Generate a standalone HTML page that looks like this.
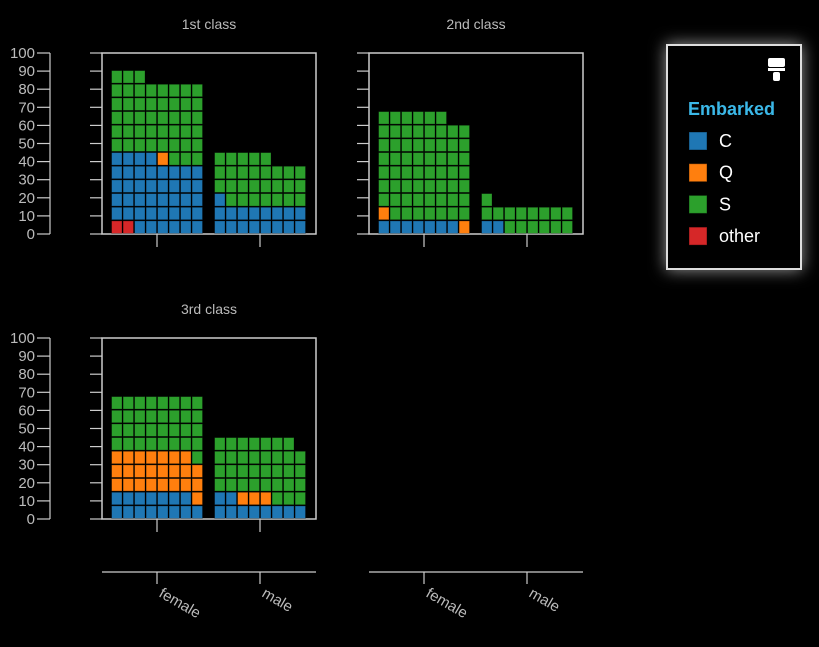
<!DOCTYPE html>
<html><head><meta charset="utf-8"><style>
html,body{margin:0;padding:0;background:#000;width:819px;height:647px;overflow:hidden}
svg{display:block;font-family:"Segoe UI","Liberation Sans",sans-serif}
</style></head><body>
<svg id="chart" width="819" height="647" xmlns="http://www.w3.org/2000/svg">
<g id="legend">
  <rect x="667" y="45" width="134" height="224" fill="#000" stroke="#ddd" stroke-width="2" style="filter:drop-shadow(0 0 8px rgba(255,255,255,0.6))"/>
  <g fill="#fff">
    <rect x="768" y="58" width="17" height="9" rx="2"/>
    <rect x="768" y="68" width="17" height="3"/>
    <rect x="773" y="72" width="7" height="9" rx="2"/>
  </g>
  <text x="688" y="115" fill="#3bb8e8" font-size="18" font-weight="bold">Embarked</text>
</g>
</svg>
<script>
const categories = ["female","male"];
const series = ["other","C","Q","S"];
const colors = {C:"#1f77b4",Q:"#ff7f0e",S:"#2ca02c",other:"#d62728"};
const panels = ["1st class","2nd class","3rd class"];
// counts [panel][category][series: other,C,Q,S]
const class1Female = [2,42,1,46];
const class1Male = [0,17,0,28];
const class2Female = [0,7,2,61];
const class2Male = [0,2,0,15];
const class3Female = [0,15,24,33];
const class3Male = [0,10,3,34];
const yTicks = [0,10,20,30,40,50,60,70,80,90,100];
const data = [[class1Female,class1Male],[class2Female,class2Male],[class3Female,class3Male]];
const unitsPerRow = 7.55, perRow = 8;

const svg = document.getElementById('chart');
const NS = "http://www.w3.org/2000/svg";
function mk(tag, attrs, parent){const e=document.createElementNS(NS,tag);for(const k in attrs)e.setAttribute(k,attrs[k]);(parent||svg).appendChild(e);return e;}

const layout = [{x:102,y:53},{x:369,y:53},{x:102,y:338}];
const W=214,H=181;
panels.forEach((title,p)=>{
  const L=layout[p];
  const g=mk('g',{});
  
  
  const ys=v=>L.y+H-v/100*H;
  const xs=c=>L.x+55+c*103;
  const t=mk('text',{x:L.x+107,y:L.y-24,fill:'#bbb','font-size':14,'text-anchor':'middle'},g);
  t.textContent=title;
  
  
  const fr=mk('rect',{x:L.x,y:L.y,width:W,height:H,fill:'none',stroke:'#ccc','stroke-width':1.5},g);
  
  
  // inner ticks
  yTicks.forEach(v=>{mk('line',{x1:L.x-12,x2:L.x,y1:ys(v),y2:ys(v),stroke:'#ccc','stroke-width':1.2},g);});
  categories.forEach((c,ci)=>{mk('line',{x1:xs(ci),x2:xs(ci),y1:L.y+H,y2:L.y+H+13,stroke:'#ccc','stroke-width':1.2},g);});
  // y axis for left panels
  if(L.x<200){
    const ax=mk('g',{},g);
    
    
    mk('line',{x1:50,x2:50,y1:ys(100),y2:ys(0),stroke:'#ccc','stroke-width':1.2},ax);
    yTicks.forEach(v=>{
      mk('line',{x1:37,x2:50,y1:ys(v),y2:ys(v),stroke:'#ccc','stroke-width':1.2},ax);
      const tl=mk('text',{x:35,y:ys(v)+5,fill:'#bbb','font-size':15,'text-anchor':'end'},ax);
      tl.textContent=v;
      
      
    });
  }
  // waffles
  categories.forEach((c,ci)=>{
    const counts=data[p][ci];
    let idx=0;
    const x0=xs(ci)-46;
    series.forEach((s,si)=>{
      for(let k=0;k<counts[si];k++){
        const row=Math.floor(idx/perRow), col=idx%perRow;
        const top=ys((row+1)*unitsPerRow);
        const bot=ys(row*unitsPerRow);
        const r=mk('rect',{x:x0+col*11.5+0.6,y:top+0.6,width:10.4,height:bot-top-1.2,fill:colors[s],stroke:'rgba(0,0,0,0.35)','stroke-width':0.8},g);
        
        
        idx++;
      }
    });
  });
});
// bottom category axes
[102,369].forEach(x=>{
  const g=mk('g',{});
  
  
  mk('line',{x1:x,x2:x+W,y1:572,y2:572,stroke:'#ccc','stroke-width':1.2},g);
  categories.forEach((c,ci)=>{
    const cx=x+55+ci*103;
    mk('line',{x1:cx,x2:cx,y1:572,y2:584,stroke:'#ccc','stroke-width':1.2},g);
    const t=mk('text',{x:cx+1,y:596,fill:'#bbb','font-size':15,transform:`rotate(30 ${cx+1} 596)`},g);
    t.textContent=c;
    
    
  });
});
// legend entries
const lg=document.getElementById('legend');
["C","Q","S","other"].forEach((s,i)=>{
  const y=132+i*31.7;
  const e=mk('g',{},lg);
  
  
  mk('rect',{x:689,y:y,width:18,height:18,fill:colors[s],stroke:'rgba(0,0,0,0.4)'},e);
  const t=mk('text',{x:719,y:y+15,fill:'#fff','font-size':18},e);
  t.textContent=s;
});
</script>
</body></html>
